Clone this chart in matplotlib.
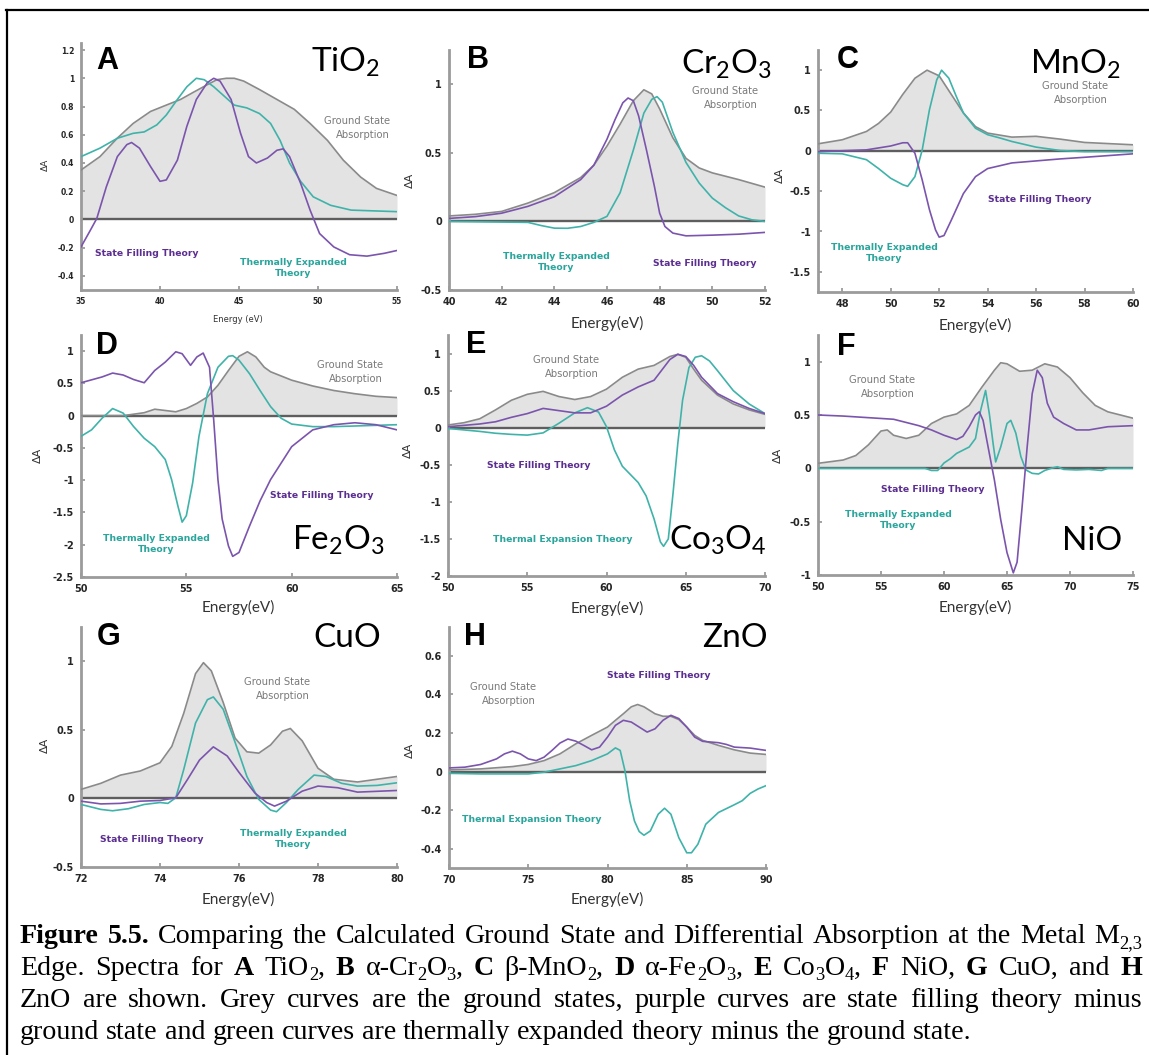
import matplotlib
matplotlib.use("Agg")
import matplotlib.pyplot as plt
from matplotlib.lines import Line2D
from matplotlib.ticker import FixedLocator, FuncFormatter

plt.rcParams['axes.unicode_minus'] = False
plt.rcParams['mathtext.default'] = 'regular'

# ---------------------------------------------------------------- data
# A  TiO2
tio2_ground_e = [35, 36.2, 37.3, 38.3, 39.4, 40.4, 41.3, 42.1, 43.0, 43.6, 44.2, 44.7, 45.3, 46.3,
                 47.4, 48.5, 49.5, 50.6, 51.6, 52.7, 53.7, 55]
tio2_ground = [0.35, 0.445, 0.576, 0.68, 0.765, 0.81, 0.85, 0.90, 0.955, 0.99, 1.0, 1.0, 0.98, 0.92,
               0.85, 0.78, 0.68, 0.56, 0.42, 0.30, 0.22, 0.17]
tio2_fill_e = [35, 35.6, 36.0, 36.6, 37.3, 37.9, 38.2, 38.7, 39.4, 40.0, 40.4, 41.1, 41.7, 42.3, 43.0,
               43.4, 43.8, 44.5, 45.1, 45.6, 46.1, 46.8, 47.4, 47.8, 48.2, 48.9, 49.5, 50.1, 51.0,
               52.0, 53.1, 54.2, 55]
tio2_fill = [-0.195, -0.075, 0.007, 0.23, 0.445, 0.53, 0.545, 0.505, 0.375, 0.27, 0.28, 0.42, 0.66,
             0.85, 0.97, 1.0, 0.98, 0.85, 0.61, 0.445, 0.40, 0.435, 0.49, 0.50, 0.445, 0.256, 0.066,
             -0.10, -0.195, -0.25, -0.26, -0.24, -0.22]
tio2_exp_e = [35, 36.2, 37.3, 38.3, 39.0, 39.8, 40.4, 41.1, 41.7, 42.3, 42.8, 43.4, 44.0, 44.7, 45.5,
              46.3, 47.0, 47.6, 48.2, 48.9, 49.7, 50.8, 52.1, 55]
tio2_exp = [0.445, 0.505, 0.575, 0.61, 0.62, 0.67, 0.74, 0.85, 0.94, 1.0, 0.99, 0.94, 0.88, 0.81, 0.79,
            0.75, 0.68, 0.56, 0.40, 0.27, 0.16, 0.10, 0.066, 0.055]

# B  Cr2O3
cr2o3_ground_e = [40, 41, 42, 43, 44, 45, 45.5, 46, 46.5, 47, 47.4, 47.7, 48, 48.5, 49, 49.5, 50, 51, 52]
cr2o3_ground = [0.04, 0.052, 0.073, 0.134, 0.21, 0.32, 0.41, 0.55, 0.71, 0.88, 0.96, 0.93, 0.82, 0.61,
                0.46, 0.39, 0.354, 0.305, 0.25]
cr2o3_fill_e = [40, 41, 42, 43, 44, 45, 45.5, 46, 46.3, 46.6, 46.8, 47, 47.2, 47.5, 47.8, 48, 48.2,
                48.5, 49, 50, 51, 52]
cr2o3_fill = [0.022, 0.035, 0.06, 0.11, 0.18, 0.305, 0.41, 0.6, 0.74, 0.865, 0.9, 0.88, 0.77, 0.52,
              0.256, 0.06, -0.037, -0.085, -0.105, -0.10, -0.093, -0.08]
cr2o3_exp_e = [40, 43, 43.5, 44, 44.5, 45, 45.5, 46, 46.5, 47, 47.4, 47.7, 47.9, 48.1, 48.5, 49, 49.5,
               50, 50.5, 51, 51.5, 52]
cr2o3_exp = [0.0, -0.007, -0.03, -0.049, -0.05, -0.037, -0.007, 0.037, 0.21, 0.52, 0.79, 0.89, 0.91,
             0.87, 0.65, 0.43, 0.28, 0.17, 0.10, 0.04, 0.012, 0.0]

# C  MnO2
mno2_ground_e = [47, 48, 49, 49.5, 50, 50.5, 51, 51.5, 52, 52.5, 53, 53.5, 54, 55, 56, 57, 58, 60]
mno2_ground = [0.087, 0.137, 0.24, 0.34, 0.48, 0.70, 0.9, 1.0, 0.93, 0.70, 0.47, 0.30, 0.22, 0.17,
               0.18, 0.145, 0.104, 0.075]
mno2_fill_e = [47, 49, 50, 50.5, 50.7, 51, 51.3, 51.6, 51.85, 52, 52.2, 52.5, 53, 53.5, 54, 55, 56, 57,
               58, 60]
mno2_fill = [-0.01, 0.012, 0.06, 0.10, 0.10, -0.03, -0.36, -0.73, -0.98, -1.07, -1.05, -0.86, -0.53,
             -0.32, -0.22, -0.15, -0.125, -0.10, -0.08, -0.037]
mno2_exp_e = [47, 48, 49, 49.5, 50, 50.5, 50.7, 51, 51.3, 51.6, 51.9, 52.1, 52.4, 52.7, 53, 53.5, 54,
              54.5, 55, 56, 57, 58, 60]
mno2_exp = [-0.03, -0.037, -0.11, -0.22, -0.34, -0.42, -0.44, -0.32, 0.01, 0.51, 0.88, 1.0, 0.9, 0.68,
            0.47, 0.28, 0.2, 0.16, 0.116, 0.046, 0.004, -0.01, -0.01]

# D  Fe2O3
fe2o3_ground_e = [50, 52, 53, 53.5, 54, 54.5, 55, 55.5, 56, 56.5, 57, 57.5, 57.9, 58.3, 58.7, 59, 60,
                  61, 62, 63, 64, 65]
fe2o3_ground = [0.0, 0.0, 0.046, 0.1, 0.08, 0.06, 0.11, 0.19, 0.29, 0.47, 0.70, 0.92, 0.99, 0.91, 0.75,
                0.68, 0.55, 0.46, 0.39, 0.34, 0.30, 0.28]
fe2o3_fill_e = [50, 51, 51.5, 52, 52.5, 53, 53.5, 54, 54.5, 54.8, 55.2, 55.5, 55.8, 56.1, 56.3, 56.5,
                56.7, 57, 57.2, 57.5, 58, 58.5, 59, 60, 61, 62, 63, 64, 65]
fe2o3_fill = [0.51, 0.6, 0.66, 0.63, 0.56, 0.51, 0.70, 0.83, 0.99, 0.96, 0.78, 0.91, 0.97, 0.75, -0.07,
              -0.99, -1.6, -2.02, -2.18, -2.12, -1.71, -1.32, -0.99, -0.48, -0.22, -0.14, -0.11,
              -0.14, -0.22]
fe2o3_exp_e = [50, 50.5, 51, 51.5, 52, 52.5, 53, 53.5, 54, 54.3, 54.6, 54.8, 55, 55.3, 55.6, 56, 56.5,
               57, 57.2, 57.5, 58, 58.5, 59, 59.5, 60, 61, 62, 63, 65]
fe2o3_exp = [-0.32, -0.22, -0.04, 0.11, 0.04, -0.17, -0.35, -0.48, -0.68, -0.99, -1.4, -1.65, -1.55,
             -1.04, -0.32, 0.34, 0.75, 0.92, 0.93, 0.86, 0.65, 0.39, 0.14, -0.04, -0.13, -0.17, -0.17,
             -0.16, -0.14]

# E  Co3O4
co3o4_ground_e = [50, 51, 52, 53, 54, 55, 56, 57, 58, 59, 60, 61, 62, 63, 64, 64.5, 65, 65.5, 66, 67,
                  68, 69, 70]
co3o4_ground = [0.036, 0.067, 0.12, 0.24, 0.37, 0.45, 0.49, 0.42, 0.38, 0.42, 0.52, 0.68, 0.79, 0.84,
                0.96, 0.99, 0.95, 0.79, 0.64, 0.44, 0.32, 0.24, 0.18]
co3o4_fill_e = [50, 52, 53, 54, 55, 56, 57, 58, 59, 60, 61, 62, 63, 64, 64.5, 65, 65.5, 66, 67, 68, 69,
                70]
co3o4_fill = [0.013, 0.05, 0.08, 0.14, 0.19, 0.26, 0.23, 0.2, 0.2, 0.29, 0.44, 0.55, 0.64, 0.92, 0.99,
              0.96, 0.84, 0.68, 0.46, 0.35, 0.26, 0.19]
co3o4_exp_e = [50, 52, 53, 54, 55, 56, 57, 58, 58.8, 59.5, 60, 60.5, 61, 62, 62.5, 63, 63.4, 63.6,
               63.9, 64.2, 64.5, 64.8, 65.2, 65.6, 66, 66.5, 67, 68, 69, 70]
co3o4_exp = [-0.01, -0.05, -0.075, -0.09, -0.1, -0.07, 0.06, 0.2, 0.27, 0.21, 0.013, -0.3, -0.52,
             -0.74, -0.92, -1.23, -1.54, -1.6, -1.5, -0.88, -0.21, 0.37, 0.81, 0.95, 0.97, 0.90, 0.77,
             0.50, 0.32, 0.19]

# F  NiO
nio_ground_e = [50, 52, 53, 54, 55, 55.5, 56, 57, 58, 59, 60, 61, 62, 63, 64, 64.5, 65, 66, 67, 68, 69,
                70, 71, 72, 73, 74, 75]
nio_ground = [0.047, 0.078, 0.12, 0.22, 0.35, 0.36, 0.31, 0.28, 0.31, 0.42, 0.48, 0.51, 0.59, 0.76,
              0.92, 0.99, 0.98, 0.91, 0.92, 0.98, 0.95, 0.85, 0.71, 0.59, 0.53, 0.5, 0.47]
nio_fill_e = [50, 52, 54, 56, 58, 59, 60, 61, 61.5, 62, 62.5, 62.8, 63.1, 63.5, 64, 64.5, 65, 65.5,
              65.8, 66.2, 66.6, 67, 67.4, 67.8, 68.2, 68.7, 69.5, 70.5, 71.5, 73, 75]
nio_fill = [0.50, 0.49, 0.475, 0.46, 0.40, 0.36, 0.31, 0.27, 0.30, 0.39, 0.50, 0.53, 0.45, 0.2, -0.11,
            -0.48, -0.79, -0.98, -0.88, -0.36, 0.2, 0.70, 0.92, 0.85, 0.61, 0.48, 0.42, 0.36, 0.36,
            0.39, 0.40]
nio_exp_e = [50, 58.5, 59, 59.5, 60, 60.5, 61, 61.5, 62, 62.5, 62.9, 63.3, 63.6, 63.9, 64.1, 64.5, 65,
             65.3, 65.7, 66.1, 66.5, 67, 67.5, 68, 68.5, 69, 69.5, 70.5, 71.5, 72.5, 73, 75]
nio_exp = [0.0, 0.0, -0.02, -0.02, 0.05, 0.09, 0.14, 0.17, 0.2, 0.28, 0.54, 0.73, 0.51, 0.23, 0.06, 0.2,
           0.42, 0.45, 0.33, 0.11, -0.015, -0.047, -0.053, -0.02, 0.0, 0.015, -0.01, -0.015, -0.01,
           -0.02, 0.0, 0.0]

# G  CuO
cuo_ground_e = [72, 72.5, 73, 73.5, 74, 74.3, 74.6, 74.9, 75.1, 75.3, 75.6, 75.9, 76.2, 76.5, 76.8,
                77.1, 77.3, 77.6, 78, 78.4, 79, 79.5, 80]
cuo_ground = [0.066, 0.11, 0.17, 0.2, 0.26, 0.38, 0.62, 0.91, 0.99, 0.93, 0.70, 0.44, 0.34, 0.33, 0.39,
              0.49, 0.51, 0.42, 0.22, 0.14, 0.12, 0.14, 0.16]
cuo_fill_e = [72, 72.5, 73, 73.5, 74, 74.4, 74.7, 75, 75.35, 75.7, 76, 76.4, 76.7, 76.9, 77.2, 77.6,
              78, 78.5, 79, 80]
cuo_fill = [-0.02, -0.04, -0.036, -0.02, -0.015, 0.005, 0.14, 0.28, 0.376, 0.31, 0.19, 0.04, -0.03,
            -0.056, -0.02, 0.053, 0.09, 0.078, 0.046, 0.058]
cuo_exp_e = [72, 72.5, 72.8, 73.2, 73.6, 74, 74.2, 74.4, 74.6, 74.9, 75.2, 75.35, 75.6, 75.9, 76.2,
             76.5, 76.8, 76.95, 77.2, 77.5, 77.9, 78.2, 78.6, 79, 79.5, 80]
cuo_exp = [-0.044, -0.08, -0.09, -0.075, -0.044, -0.03, -0.036, 0.005, 0.21, 0.55, 0.72, 0.74, 0.65,
           0.41, 0.16, -0.007, -0.085, -0.097, -0.03, 0.066, 0.17, 0.16, 0.11, 0.09, 0.095, 0.114]

# H  ZnO
zno_ground_e = [70, 72, 74, 75, 76, 77, 78, 79, 80, 80.5, 81, 81.5, 81.9, 82.3, 83, 83.5, 84, 84.5, 85,
                85.5, 86, 87, 88, 89, 90]
zno_ground = [0.009, 0.014, 0.026, 0.037, 0.057, 0.092, 0.144, 0.188, 0.231, 0.266, 0.30, 0.336, 0.348,
              0.336, 0.30, 0.287, 0.287, 0.27, 0.231, 0.188, 0.162, 0.136, 0.113, 0.096, 0.089]
zno_fill_e = [70, 71, 72, 73, 73.5, 74, 74.5, 75, 75.5, 76, 76.5, 77, 77.5, 78, 78.5, 79, 79.5, 80,
              80.5, 81, 81.5, 82, 82.5, 83, 83.5, 84, 84.5, 85, 85.5, 86, 87, 87.5, 88, 89, 90]
zno_fill = [0.019, 0.023, 0.037, 0.066, 0.092, 0.106, 0.092, 0.066, 0.057, 0.075, 0.11, 0.148, 0.169,
            0.158, 0.136, 0.113, 0.127, 0.179, 0.24, 0.266, 0.257, 0.231, 0.205, 0.222, 0.266, 0.292,
            0.275, 0.231, 0.179, 0.157, 0.15, 0.141, 0.127, 0.122, 0.11]
zno_exp_e = [70, 72, 74, 75, 76, 77, 78, 79, 80, 80.5, 80.8, 81.1, 81.4, 81.7, 82, 82.3, 82.7, 83.2,
             83.6, 84, 84.5, 85, 85.3, 85.7, 86.2, 87, 88, 88.5, 89, 89.5, 90]
zno_exp = [-0.009, -0.012, -0.012, -0.012, -0.003, 0.014, 0.031, 0.057, 0.092, 0.123, 0.11, 0.005,
           -0.151, -0.256, -0.311, -0.33, -0.308, -0.221, -0.19, -0.221, -0.343, -0.421, -0.421,
           -0.377, -0.273, -0.212, -0.172, -0.151, -0.113, -0.09, -0.073]

# axis ticks
tio2_xticks = [35, 40, 45, 50, 55]
tio2_yticks = [-0.4, -0.2, 0, 0.2, 0.4, 0.6, 0.8, 1, 1.2]
cr2o3_xticks = [40, 42, 44, 46, 48, 50, 52]
cr2o3_yticks = [-0.5, 0, 0.5, 1]
mno2_xticks = [48, 50, 52, 54, 56, 58, 60]
mno2_yticks = [-1.5, -1, -0.5, 0, 0.5, 1]
fe2o3_xticks = [50, 55, 60, 65]
fe2o3_yticks = [-2.5, -2, -1.5, -1, -0.5, 0, 0.5, 1]
co3o4_xticks = [50, 55, 60, 65, 70]
co3o4_yticks = [-2, -1.5, -1, -0.5, 0, 0.5, 1]
nio_xticks = [50, 55, 60, 65, 70, 75]
nio_yticks = [-1, -0.5, 0, 0.5, 1]
cuo_xticks = [72, 74, 76, 78, 80]
cuo_yticks = [-0.5, 0, 0.5, 1]
zno_xticks = [70, 75, 80, 85, 90]
zno_yticks = [-0.4, -0.2, 0, 0.2, 0.4, 0.6]

caption_lines = [
    "*Figure 5.5.* Comparing the Calculated Ground State and Differential Absorption at the Metal M~2,3~",
    "Edge. Spectra for *A* TiO~2~, *B* \u03b1-Cr~2~O~3~, *C* \u03b2-MnO~2~, *D* \u03b1-Fe~2~O~3~, "
    "*E* Co~3~O~4~, *F* NiO, *G* CuO, and *H*",
    "ZnO are shown. Grey curves are the ground states, purple curves are state filling theory minus",
    "ground state and green curves are thermally expanded theory minus the ground state.",
]

# ---------------------------------------------------------------- style
W, H = 1149, 1055
GREY_LINE = '#8a8a8a'
GREY_FILL = '#e3e3e3'
PURPLE = '#7b55ad'
PURPLE_TXT = '#5b2e90'
TEAL = '#3fb3aa'
TEAL_TXT = '#2aa59c'
ZERO = '#5e5e5e'
SPINE = '#9b9b9b'
GS_TXT = '#7a7a7a'

fig = plt.figure(figsize=(W / 100, H / 100), dpi=100)


def fx(x):
    return x / W


def fy(y):
    return 1 - y / H


panels = [
    dict(letter='A', formula='TiO$_2$', box=(81, 43, 397, 290), xlim=(35, 55), ylim=(-0.5, 1.25),
         ground=(tio2_ground_e, tio2_ground), fill=(tio2_fill_e, tio2_fill), exp=(tio2_exp_e, tio2_exp),
         xticks=tio2_xticks, yticks=tio2_yticks, small=True,
         letter_xy=(96, 61), formula_xy=(311, 72),
         gs=(390, 128), sf=(95, 254), te=(293, 268), te_text='Thermally Expanded\nTheory', te_ha='center',
         xlabel=('Energy (eV)', 238, 320), ylabel=(45, 165)),
    dict(letter='B', formula='Cr$_2$O$_3$', box=(449, 50, 765, 290), xlim=(40, 52), ylim=(-0.5, 1.25),
         ground=(cr2o3_ground_e, cr2o3_ground), fill=(cr2o3_fill_e, cr2o3_fill),
         exp=(cr2o3_exp_e, cr2o3_exp),
         xticks=cr2o3_xticks, yticks=cr2o3_yticks, small=False,
         letter_xy=(467, 60), formula_xy=(681, 74),
         gs=(758, 98), sf=(653, 263), te=(556, 262), te_text='Thermally Expanded\nTheory', te_ha='center',
         xlabel=('Energy(eV)', 607, 323), ylabel=(410, 180)),
    dict(letter='C', formula='MnO$_2$', box=(818, 50, 1133, 292), xlim=(47, 60), ylim=(-1.75, 1.25),
         ground=(mno2_ground_e, mno2_ground), fill=(mno2_fill_e, mno2_fill), exp=(mno2_exp_e, mno2_exp),
         xticks=mno2_xticks, yticks=mno2_yticks, small=False,
         letter_xy=(837, 60), formula_xy=(1030, 74),
         gs=(1108, 93), sf=(988, 199), te=(884, 253), te_text='Thermally Expanded\nTheory', te_ha='center',
         xlabel=('Energy(eV)', 975, 325), ylabel=(780, 175)),
    dict(letter='D', formula='Fe$_2$O$_3$', box=(81, 335, 397, 577), xlim=(50, 65), ylim=(-2.5, 1.25),
         ground=(fe2o3_ground_e, fe2o3_ground), fill=(fe2o3_fill_e, fe2o3_fill),
         exp=(fe2o3_exp_e, fe2o3_exp),
         xticks=fe2o3_xticks, yticks=fe2o3_yticks, small=False,
         letter_xy=(96, 346), formula_xy=(292, 550),
         gs=(383, 372), sf=(270, 495), te=(156, 544), te_text='Thermally Expanded\nTheory', te_ha='center',
         xlabel=('Energy(eV)', 238, 607), ylabel=(38, 455)),
    dict(letter='E', formula='Co$_3$O$_4$', box=(448, 335, 765, 576), xlim=(50, 70), ylim=(-2, 1.25),
         ground=(co3o4_ground_e, co3o4_ground), fill=(co3o4_fill_e, co3o4_fill),
         exp=(co3o4_exp_e, co3o4_exp),
         xticks=co3o4_xticks, yticks=co3o4_yticks, small=False,
         letter_xy=(466, 345), formula_xy=(669, 550),
         gs=(599, 367), sf=(487, 465), te=(493, 540), te_text='Thermal Expansion Theory', te_ha='left',
         xlabel=('Energy(eV)', 607, 608), ylabel=(408, 450)),
    dict(letter='F', formula='NiO', box=(818, 335, 1133, 575), xlim=(50, 75), ylim=(-1, 1.25),
         ground=(nio_ground_e, nio_ground), fill=(nio_fill_e, nio_fill), exp=(nio_exp_e, nio_exp),
         xticks=nio_xticks, yticks=nio_yticks, small=False,
         letter_xy=(837, 347), formula_xy=(1062, 550),
         gs=(915, 387), sf=(881, 490), te=(898, 520), te_text='Thermally Expanded\nTheory', te_ha='center',
         xlabel=('Energy(eV)', 975, 607), ylabel=(778, 455)),
    dict(letter='G', formula='CuO', box=(81, 627, 397, 867), xlim=(72, 80), ylim=(-0.5, 1.25),
         ground=(cuo_ground_e, cuo_ground), fill=(cuo_fill_e, cuo_fill), exp=(cuo_exp_e, cuo_exp),
         xticks=cuo_xticks, yticks=cuo_yticks, small=False,
         letter_xy=(97, 637), formula_xy=(313, 647),
         gs=(310, 689), sf=(100, 840), te=(293, 839), te_text='Thermally Expanded\nTheory', te_ha='center',
         xlabel=('Energy(eV)', 238, 899), ylabel=(45, 745)),
    dict(letter='H', formula='ZnO', box=(449, 627, 766, 868), xlim=(70, 90), ylim=(-0.5, 0.75),
         ground=(zno_ground_e, zno_ground), fill=(zno_fill_e, zno_fill), exp=(zno_exp_e, zno_exp),
         xticks=zno_xticks, yticks=zno_yticks, small=False,
         letter_xy=(464, 637), formula_xy=(702, 647),
         gs=(536, 694), sf=(607, 676), te=(462, 819), te_text='Thermal Expansion Theory', te_ha='left',
         xlabel=('Energy(eV)', 607, 899), ylabel=(410, 750)),
]


def draw_panel(p):
    L, T, R, B = p['box']
    ax = fig.add_axes([fx(L), fy(B), (R - L) / W, (B - T) / H])
    ax.set_xlim(*p['xlim'])
    ax.set_ylim(*p['ylim'])
    ax.patch.set_alpha(0)

    gx, gy = p['ground']
    ax.fill_between(gx, gy, 0, color=GREY_FILL, lw=0, zorder=1)
    ax.axhline(0, color=ZERO, lw=1.7, zorder=2)
    ax.plot(gx, gy, color=GREY_LINE, lw=1.2, zorder=3, solid_joinstyle='round')
    ax.plot(*p['exp'], color=TEAL, lw=1.2, zorder=4, solid_joinstyle='round')
    ax.plot(*p['fill'], color=PURPLE, lw=1.2, zorder=5, solid_joinstyle='round')

    for side in ('top', 'right'):
        ax.spines[side].set_visible(False)
    for side in ('left', 'bottom'):
        ax.spines[side].set_color(SPINE)
        ax.spines[side].set_linewidth(2.0)

    tsize = 5.5 if p['small'] else 7
    ax.xaxis.set_major_locator(FixedLocator(p['xticks']))
    ax.yaxis.set_major_locator(FixedLocator(p['yticks']))
    ax.yaxis.set_major_formatter(FuncFormatter(lambda v, _: '%g' % v))
    ax.xaxis.set_major_formatter(FuncFormatter(lambda v, _: '%g' % v))
    ax.tick_params(direction='in', length=3, width=1.3, color=SPINE, labelsize=tsize,
                   labelcolor='#262626')
    ax.tick_params(axis='y', pad=5)
    ax.tick_params(axis='x', pad=5)
    for lab in ax.get_xticklabels() + ax.get_yticklabels():
        lab.set_fontweight('bold')

    # panel letter and compound
    lx, ly = p['letter_xy']
    fig.text(fx(lx), fy(ly), p['letter'], fontsize=22, fontweight='bold', family='Liberation Sans',
             ha='left', va='center', color='black')
    ox, oy = p['formula_xy']
    fig.text(fx(ox), fy(oy), p['formula'], fontsize=24, family='Lato', ha='left', va='baseline',
             color='black')

    # curve annotations
    gsx, gsy = p['gs']
    fig.text(fx(gsx), fy(gsy), 'Ground State\nAbsorption', fontsize=7.2, color=GS_TXT, ha='right',
             va='center', multialignment='right', linespacing=1.4)
    sfx, sfy = p['sf']
    fig.text(fx(sfx), fy(sfy), 'State Filling Theory', fontsize=6.7, fontweight='bold',
             color=PURPLE_TXT, ha='left', va='center')
    tex, tey = p['te']
    fig.text(fx(tex), fy(tey), p['te_text'], fontsize=6.7, fontweight='bold', color=TEAL_TXT,
             ha=p['te_ha'], va='center', multialignment='center', linespacing=1.4)

    # axis titles
    xl, xlx, xly = p['xlabel']
    if p['small']:
        fig.text(fx(xlx), fy(xly), xl, fontsize=6, color='#333333', ha='center', va='center')
    else:
        fig.text(fx(xlx), fy(xly), xl, fontsize=11, family='Lato', color='#333333', ha='center',
                 va='center')
    ylx, yly = p['ylabel']
    fig.text(fx(ylx), fy(yly), '\u0394A', fontsize=6.5 if p['small'] else 8, color='#333333',
             rotation=90, ha='center', va='center')


for p in panels:
    draw_panel(p)

# frame around the figure block
fig.add_artist(Line2D([fx(7), fx(7)], [fy(10), fy(1070)], transform=fig.transFigure, color='black',
                      lw=1.6))
fig.add_artist(Line2D([fx(6.4), fx(1160)], [fy(10), fy(10)], transform=fig.transFigure, color='black',
                      lw=1.6))

# ---------------------------------------------------------------- caption
SERIF = 'Liberation Serif'
renderer = fig.canvas.get_renderer()


def parse_words(line):
    """Split a marked-up line into words made of (text, bold, sub) runs."""
    words, runs, buf = [], [], ''
    bold = sub = False
    for ch in line:
        if ch in '*~ ':
            if buf:
                runs.append((buf, bold, sub))
                buf = ''
            if ch == '*':
                bold = not bold
            elif ch == '~':
                sub = not sub
            else:
                if runs:
                    words.append(runs)
                runs = []
        else:
            buf += ch
    if buf:
        runs.append((buf, bold, sub))
    if runs:
        words.append(runs)
    return words


def run_props(bold, sub, size):
    return dict(fontsize=size * (0.66 if sub else 1.0), family=SERIF,
                fontweight='bold' if bold else 'normal')


def run_width(text, bold, sub, size):
    t = fig.text(0, 0, text, **run_props(bold, sub, size))
    w = t.get_window_extent(renderer).width
    t.remove()
    return w


def word_width(runs, size):
    return sum(run_width(t, b, s, size) for t, b, s in runs)


def space_width(size):
    return run_width('a a', False, False, size) - run_width('aa', False, False, size)


def natural_width(line, size):
    ws = parse_words(line)
    return sum(word_width(w, size) for w in ws) + space_width(size) * (len(ws) - 1)


CAP_LEFT, CAP_RIGHT = 20, 1142
FIRST_LINE_WIDTH = 1100
cap_size = 10 * FIRST_LINE_WIDTH / natural_width(caption_lines[0], 10)
baselines = [943, 975, 1007, 1039]

for i, line in enumerate(caption_lines):
    words = parse_words(line)
    widths = [word_width(w, cap_size) for w in words]
    gap = (CAP_RIGHT - CAP_LEFT - sum(widths)) / (len(words) - 1)
    if i == len(caption_lines) - 1 or gap > 3 * space_width(cap_size):
        gap = space_width(cap_size)
    x = CAP_LEFT
    yb = baselines[i]
    for w, ww in zip(words, widths):
        xr = x
        for text, bold, sub in w:
            dy = cap_size * 100 / 72 * 0.18 if sub else 0
            fig.text(fx(xr), fy(yb + dy), text, ha='left', va='baseline', color='black',
                     **run_props(bold, sub, cap_size))
            xr += run_width(text, bold, sub, cap_size)
        x += ww + gap

fig.savefig('out.png', dpi=100)
